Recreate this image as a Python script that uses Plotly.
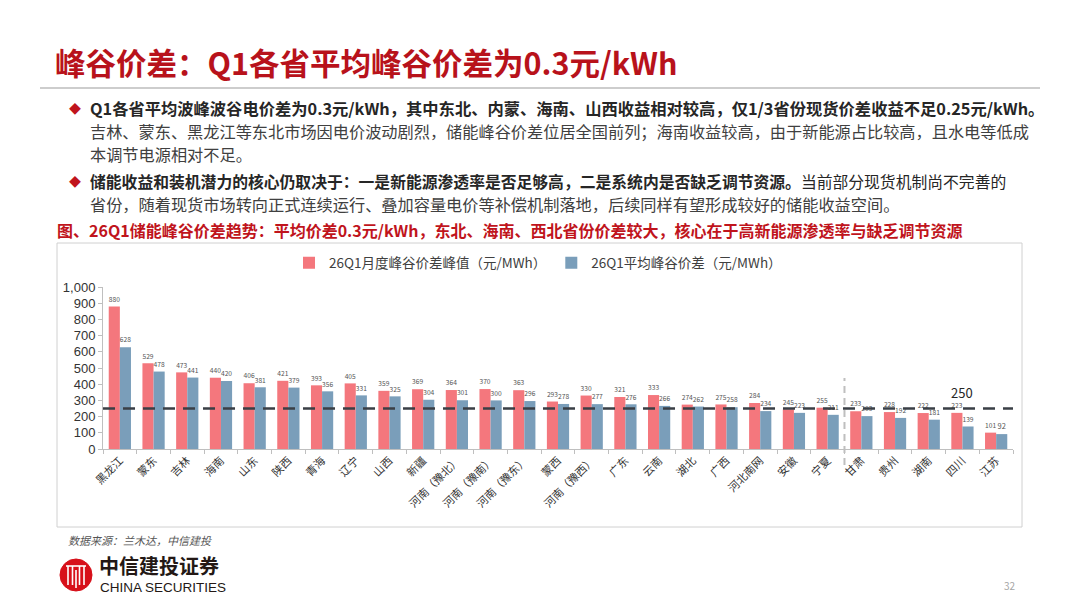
import plotly.graph_objects as go

# 省份 + 两组数值（元/MWh）
provinces = ['黑龙江', '蒙东', '吉林', '海南', '山东', '陕西', '青海', '辽宁', '山西', '新疆',
             '河南（豫北）', '河南（豫南）', '河南（豫东）', '蒙西', '河南（豫西）', '广东', '云南',
             '湖北', '广西', '河北南网', '安徽', '宁夏', '甘肃', '贵州', '湖南', '四川', '江苏']
peak_values = [880, 529, 473, 440, 406, 421, 393, 405, 359, 369, 364, 370, 363, 293, 330, 321, 333,
               274, 275, 284, 245, 255, 233, 228, 222, 223, 101]
avg_values = [628, 478, 441, 420, 381, 379, 356, 331, 325, 304, 301, 300, 296, 278, 277, 276, 266,
              262, 258, 234, 223, 211, 203, 192, 181, 139, 92]
y_ticks = [0, 100, 200, 300, 400, 500, 600, 700, 800, 900, 1000]
ref_value = 250

W, H = 1080, 608
OFF = 8  # 页面 body 的默认边距
RED = '#C0141C'
BAR_RED = '#F4777D'
BAR_BLUE = '#7A9EBA'
FONT = 'Noto Sans CJK SC'


def px(x):
    return (x - OFF) / W


def py(y):
    return 1 - (y - OFF) / H


fig = go.Figure()
fig.add_trace(go.Bar(
    x=provinces, y=peak_values, name='26Q1月度峰谷价差峰值（元/MWh）',
    marker_color=BAR_RED, text=peak_values, textposition='outside',
    textfont=dict(size=7.5, color='#555555'), cliponaxis=False,
))
fig.add_trace(go.Bar(
    x=provinces, y=avg_values, name='26Q1平均峰谷价差（元/MWh）',
    marker_color=BAR_BLUE, text=avg_values, textposition='outside',
    textfont=dict(size=7.5, color='#555555'), cliponaxis=False,
))

fig.update_layout(
    template='none',
    width=W, height=H,
    margin=dict(l=0, r=0, t=0, b=0, autoexpand=False),
    paper_bgcolor='white', plot_bgcolor='white',
    font=dict(family=FONT, color='#333333'),
    barmode='group', bargap=0.34, bargroupgap=0.0,
    showlegend=True,
    legend=dict(orientation='h', x=px(538), xanchor='center', y=py(263), yanchor='middle',
                font=dict(size=13.5, color='#404040'), traceorder='normal', bgcolor='rgba(0,0,0,0)'),
    xaxis=dict(domain=[px(103), px(1013)], tickangle=-45, tickfont=dict(size=11, color='#333333'),
               showline=True, linecolor='#BFBFBF', ticks='outside', tickson='boundaries',
               ticklen=4, tickcolor='#BFBFBF', showgrid=False, automargin=False),
    yaxis=dict(domain=[py(449), py(287)], range=[0, 1000], tickvals=y_ticks, tickformat=',',
               tickfont=dict(size=13, color='#333333', family='Liberation Sans'), showline=True,
               linecolor='#BFBFBF', ticks='outside', ticklen=4, tickcolor='#BFBFBF', showgrid=False,
               zeroline=False, automargin=False),
)

shapes = []
# 标题下分隔线
shapes.append(dict(type='line', xref='paper', yref='paper', x0=px(40), x1=px(1040), y0=py(88), y1=py(88),
                   line=dict(color='#BDBDBD', width=1.5)))
# 图表外框
shapes.append(dict(type='rect', xref='paper', yref='paper', x0=px(57), x1=px(1022), y0=py(527), y1=py(243),
                   line=dict(color='#D0D0D0', width=1)))
# 250 参考线
shapes.append(dict(type='line', xref='x domain', yref='y', x0=0, x1=1, y0=ref_value, y1=ref_value,
                   line=dict(color='#3A3F46', width=2.5, dash='12px,8px'), layer='above'))
# 宁夏/甘肃 分隔虚线
shapes.append(dict(type='line', xref='x', yref='paper', x0=21.5, x1=21.5, y0=py(465), y1=py(378),
                   line=dict(color='#BFBFBF', width=2, dash='7px,5px')))
# 公司 logo
shapes.append(dict(type='circle', xref='paper', yref='paper', x0=px(60), x1=px(92), y0=py(591), y1=py(559),
                   fillcolor='#D7101A', line=dict(color='#D7101A', width=1)))
for xx in [68, 72.5, 79.5, 84]:
    shapes.append(dict(type='line', xref='paper', yref='paper', x0=px(xx), x1=px(xx), y0=py(585), y1=py(566),
                       line=dict(color='white', width=1.6)))
shapes.append(dict(type='line', xref='paper', yref='paper', x0=px(66), x1=px(86), y0=py(566), y1=py(566),
                   line=dict(color='white', width=1.6)))
shapes.append(dict(type='line', xref='paper', yref='paper', x0=px(76), x1=px(76), y0=py(588), y1=py(570),
                   line=dict(color='white', width=1.6)))
fig.update_layout(shapes=shapes)

ann = []


def text(x, y, s, size, color='#333333', anchor='left', family=FONT):
    ann.append(dict(xref='paper', yref='paper', x=px(x), y=py(y), text=s, showarrow=False,
                    xanchor=anchor, yanchor='middle', font=dict(size=size, color=color, family=family)))


text(53, 62, '<b>峰谷价差：Q1各省平均峰谷价差为0.3元/kWh</b>', 30.5, '#B8121B')

text(67, 108, '◆', 12, RED)
text(88, 108, '<b>Q1各省平均波峰波谷电价差为0.3元/kWh，其中东北、内蒙、海南、山西收益相对较高，仅1/3省份现货价差收益不足0.25元/kWh。</b>',
     16.3, '#262626')
text(88, 131, '吉林、蒙东、黑龙江等东北市场因电价波动剧烈，储能峰谷价差位居全国前列；海南收益较高，由于新能源占比较高，且水电等低成',
     16.2, '#404040')
text(88, 154, '本调节电源相对不足。', 16.2, '#404040')
text(67, 181, '◆', 12, RED)
text(88, 181, '<b>储能收益和装机潜力的核心仍取决于：一是新能源渗透率是否足够高，二是系统内是否缺乏调节资源。</b>当前部分现货机制尚不完善的',
     15.8, '#262626')
text(88, 204, '省份，随着现货市场转向正式连续运行、叠加容量电价等补偿机制落地，后续同样有望形成较好的储能收益空间。',
     16.2, '#404040')
text(55, 230, '<b>图、26Q1储能峰谷价差趋势：平均价差0.3元/kWh，东北、海南、西北省份价差较大，核心在于高新能源渗透率与缺乏调节资源</b>',
     16, RED)

text(66, 540, '<i>数据来源：兰木达，中信建投</i>', 11, '#555555')
text(97, 565, '<b>中信建投证券</b>', 20, '#231815')
text(98, 587, 'CHINA SECURITIES', 13.5, '#231815', family='Liberation Sans')
text(1010, 585, '32', 10, '#A6A6A6', anchor='center')

# 250 标注
ann.append(dict(xref='x', yref='y', x=provinces[25], y=ref_value, text='250', showarrow=False,
                yshift=16, font=dict(size=13, color='#262626', family=FONT)))
fig.update_layout(annotations=ann)

fig.write_html('out.html')
